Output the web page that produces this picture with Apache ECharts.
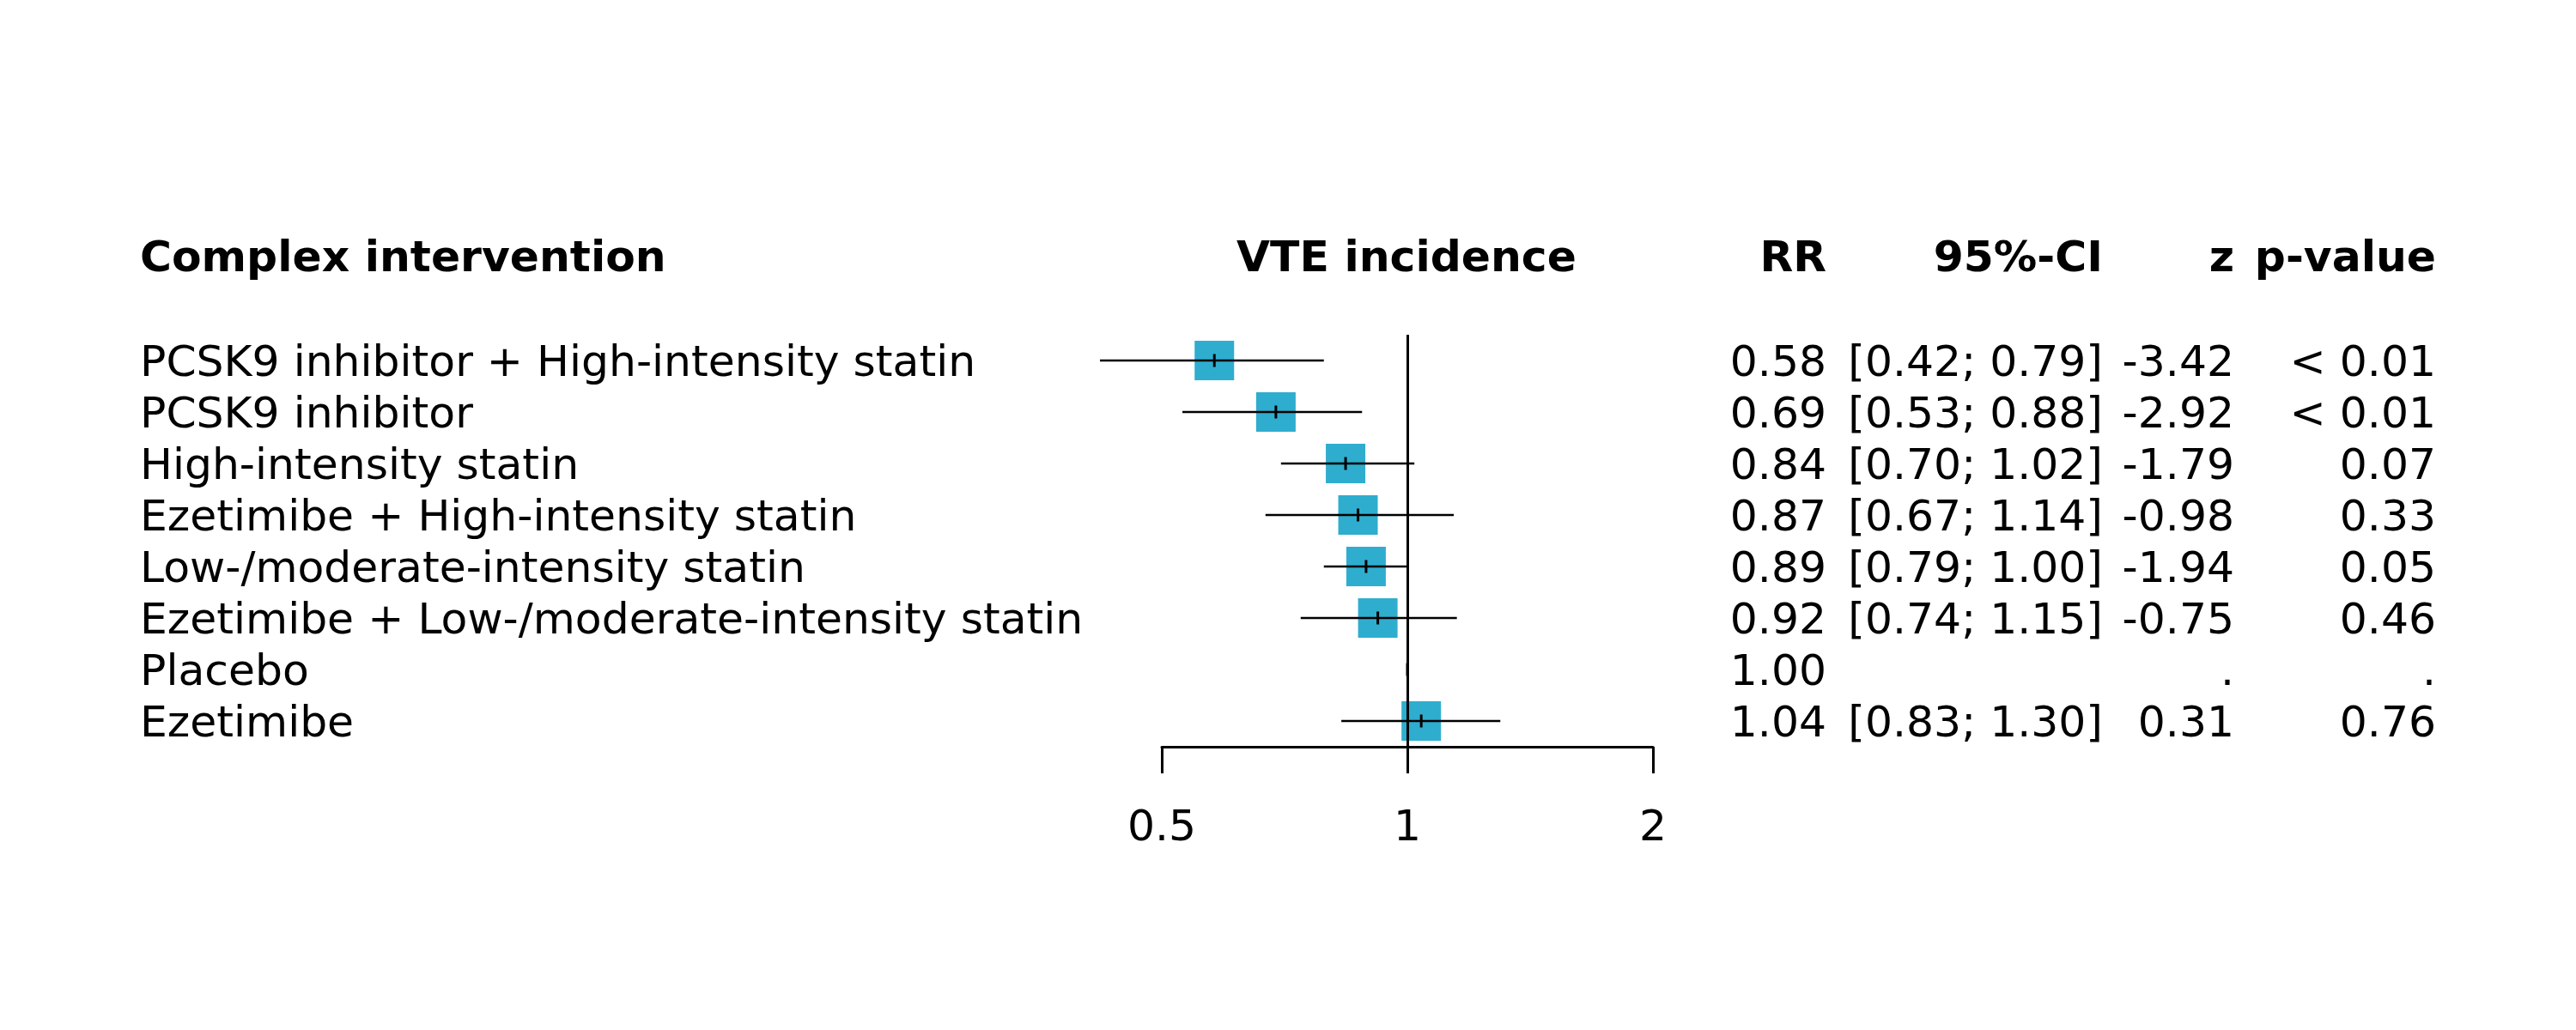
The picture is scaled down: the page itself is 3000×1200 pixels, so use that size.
<!DOCTYPE html>
<html>
<head>
<meta charset="utf-8">
<script src="https://cdn.jsdelivr.net/npm/echarts@6/dist/echarts.min.js"></script>
<style>
html,body{margin:0;padding:0;background:#fff;}
#chart{width:3000px;height:1200px;}
</style>
</head>
<body>
<div id="chart"></div>
<script>
const interventions = [
  'PCSK9 inhibitor + High-intensity statin',
  'PCSK9 inhibitor',
  'High-intensity statin',
  'Ezetimibe + High-intensity statin',
  'Low-/moderate-intensity statin',
  'Ezetimibe + Low-/moderate-intensity statin',
  'Placebo',
  'Ezetimibe'
];
const rr = [0.58, 0.69, 0.84, 0.87, 0.89, 0.92, 1.00, 1.04];
const ciLow = [0.42, 0.53, 0.70, 0.67, 0.79, 0.74, null, 0.83];
const ciHigh = [0.79, 0.88, 1.02, 1.14, 1.00, 1.15, null, 1.30];
const zValues = ['-3.42', '-2.92', '-1.79', '-0.98', '-1.94', '-0.75', '.', '0.31'];
const pValues = ['< 0.01', '< 0.01', '0.07', '0.33', '0.05', '0.46', '.', '0.76'];
const xTicks = [0.5, 1, 2];
const headers = {
  left: 'Complex intervention',
  plot: 'VTE incidence',
  rr: 'RR',
  ci: '95%-CI',
  z: 'z',
  p: 'p-value'
};

const FONT = 'DejaVu Sans';
const FS = 50.4;
const chart = echarts.init(document.getElementById('chart'), null, {renderer: 'canvas'});

const rrText = rr.map(v => v.toFixed(2));
const ciText = ciLow.map((lo, i) => lo == null ? '' : '[' + lo.toFixed(2) + '; ' + ciHigh[i].toFixed(2) + ']');

const gridLeft = 1353, gridRight = 1925, gridTop = 390, gridBottom = 870;
const HEADER_Y = 303;
const LABEL_LH = 10;

function colAxis(texts, margin) {
  return {
    type: 'category',
    data: interventions,
    inverse: true,
    position: 'right',
    axisLine: {show: false},
    axisTick: {show: false},
    splitLine: {show: false},
    axisLabel: {
      interval: 0,
      hideOverlap: false,
      margin: margin,
      align: 'right',
      verticalAlign: 'top',
      lineHeight: LABEL_LH,
      fontFamily: FONT,
      fontSize: FS,
      color: '#000',
      formatter: (v, i) => texts[i]
    }
  };
}

const squareData = [];
rr.forEach((v, i) => { if (ciLow[i] != null) squareData.push([v, i]); });
const ciData = rr.map((v, i) => [ciLow[i] == null ? v : ciLow[i], ciHigh[i] == null ? v : ciHigh[i], v, i]);

function headerText(text, x, align) {
  return {
    type: 'text', x: x, y: HEADER_Y,
    style: {text: text, font: 'bold 50.4px "DejaVu Sans"', fill: '#000', textAlign: align, textVerticalAlign: 'middle'}
  };
}

const option = {
  backgroundColor: '#fff',
  animation: false,
  grid: {left: gridLeft, width: gridRight - gridLeft, top: gridTop, height: gridBottom - gridTop, containLabel: false},
  xAxis: {
    type: 'log',
    logBase: 2,
    min: xTicks[0],
    max: xTicks[xTicks.length - 1],
    interval: 1,
    axisLine: {show: true, lineStyle: {color: '#000', width: 3}},
    axisTick: {show: true, length: 31, lineStyle: {color: '#000', width: 3}},
    splitLine: {show: false},
    axisLabel: {
      margin: 71,
      fontFamily: FONT,
      fontSize: FS,
      color: '#000',
      formatter: v => String(Math.round(v * 100) / 100)
    }
  },
  yAxis: [
    {
      type: 'category',
      data: interventions,
      inverse: true,
      position: 'left',
      axisLine: {show: false},
      axisTick: {show: false},
      splitLine: {show: false},
      axisLabel: {
        interval: 0,
        hideOverlap: false,
        margin: gridLeft - 163,
        align: 'left',
        verticalAlign: 'top',
        lineHeight: LABEL_LH,
        fontFamily: FONT,
        fontSize: FS,
        color: '#000'
      }
    },
    colAxis(rrText, 2127 - gridRight),
    colAxis(ciText, 2449 - gridRight),
    colAxis(zValues, 2602 - gridRight),
    colAxis(pValues, 2837 - gridRight)
  ],
  series: [
    {
      type: 'scatter',
      yAxisIndex: 0,
      symbol: 'rect',
      symbolSize: 46,
      itemStyle: {color: '#2FADCF', opacity: 1},
      data: squareData,
      z: 2,
      silent: true,
      markLine: {
        silent: true,
        symbol: 'none',
        label: {show: false},
        lineStyle: {color: '#000', width: 3, type: 'solid'},
        data: [{xAxis: 1}]
      }
    },
    {
      type: 'custom',
      yAxisIndex: 0,
      z: 3,
      silent: true,
      encode: {x: [0, 1, 2], y: 3},
      data: ciData,
      renderItem: function (params, api) {
        const lo = api.coord([api.value(0), api.value(3)]);
        const hi = api.coord([api.value(1), api.value(3)]);
        const est = api.coord([api.value(2), api.value(3)]);
        const children = [];
        if (hi[0] - lo[0] > 0.5) {
          children.push({
            type: 'line',
            shape: {x1: lo[0], y1: lo[1], x2: hi[0], y2: hi[1]},
            style: {stroke: '#000', lineWidth: 2.6}
          });
        }
        children.push({
          type: 'line',
          shape: {x1: est[0], y1: est[1] - 7.5, x2: est[0], y2: est[1] + 7.5},
          style: {stroke: '#000', lineWidth: 3}
        });
        return {type: 'group', children: children};
      }
    }
  ],
  graphic: [
    headerText(headers.left, 163, 'left'),
    headerText(headers.plot, 1638, 'center'),
    headerText(headers.rr, 2127, 'right'),
    headerText(headers.ci, 2449, 'right'),
    headerText(headers.z, 2602, 'right'),
    headerText(headers.p, 2837, 'right')
  ]
};
chart.setOption(option);
</script>
</body>
</html>
